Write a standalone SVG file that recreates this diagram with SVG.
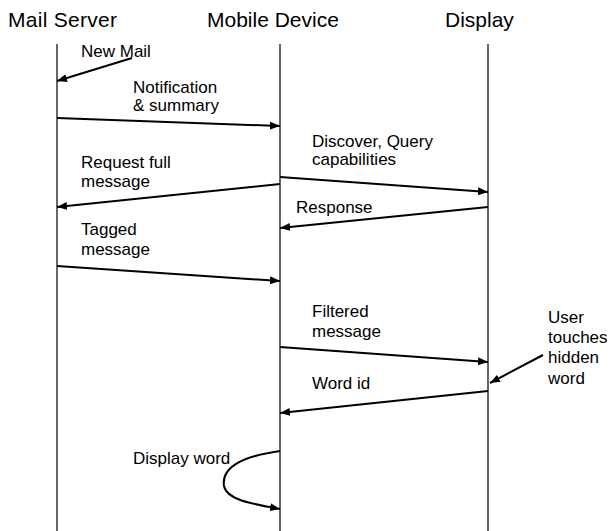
<svg xmlns="http://www.w3.org/2000/svg" width="611" height="531" viewBox="0 0 611 531">
<style>
.t{font-family:"Liberation Sans",Arial,sans-serif;font-size:21px;fill:#000}
.l{font-family:"Liberation Sans",Arial,sans-serif;font-size:17px;fill:#000}
.life{stroke:#000;stroke-width:1.2;fill:none}
.msg{stroke:#000;stroke-width:2;fill:none;marker-end:url(#ah)}
</style>
<defs>
<marker id="ah" viewBox="0 0 10 8" refX="10" refY="4" markerWidth="10" markerHeight="8" markerUnits="userSpaceOnUse" orient="auto">
<path d="M0,0 L10,4 L0,8 z" fill="#000"/>
</marker>
</defs>
<g id="mail-server">
<text class="t" x="8" y="27" textLength="109">Mail Server</text>
<line class="life" x1="57" y1="44" x2="57" y2="531"/>
</g>
<g id="mobile-device">
<text class="t" x="207" y="27">Mobile Device</text>
<line class="life" x1="280" y1="44" x2="280" y2="531"/>
</g>
<g id="display">
<text class="t" x="445" y="27">Display</text>
<line class="life" x1="488" y1="44" x2="488" y2="531"/>
</g>
<g id="connectors">
<line class="msg" x1="132" y1="58" x2="57" y2="81"/>
<line class="msg" x1="57" y1="118" x2="280" y2="126"/>
<line class="msg" x1="280" y1="177" x2="488" y2="192"/>
<line class="msg" x1="280" y1="184" x2="57" y2="207"/>
<line class="msg" x1="488" y1="207" x2="280" y2="228"/>
<line class="msg" x1="57" y1="266" x2="280" y2="281"/>
<line class="msg" x1="280" y1="347" x2="488" y2="362"/>
<line class="msg" x1="488" y1="391" x2="280" y2="413"/>
<line class="msg" x1="543" y1="355" x2="490" y2="383"/>
<path class="msg" d="M280,451 C245,456 221,466 224,486 C227,500 252,504 280,509"/>
</g>
<g id="labels">
<text class="l" x="81" y="57">New Mail</text>
<text class="l" x="133" y="93">Notification</text>
<text class="l" x="133" y="111">&amp; summary</text>
<text class="l" x="312" y="147">Discover, Query</text>
<text class="l" x="312" y="165">capabilities</text>
<text class="l" x="81" y="168">Request full</text>
<text class="l" x="81" y="187">message</text>
<text class="l" x="296" y="213">Response</text>
<text class="l" x="81" y="235">Tagged</text>
<text class="l" x="81" y="255">message</text>
<text class="l" x="312" y="317">Filtered</text>
<text class="l" x="312" y="337">message</text>
<text class="l" x="312" y="389">Word id</text>
<text class="l" x="548" y="323">User</text>
<text class="l" x="548" y="343">touches</text>
<text class="l" x="548" y="363">hidden</text>
<text class="l" x="548" y="384">word</text>
<text class="l" x="133" y="464">Display word</text>
</g>
</svg>
